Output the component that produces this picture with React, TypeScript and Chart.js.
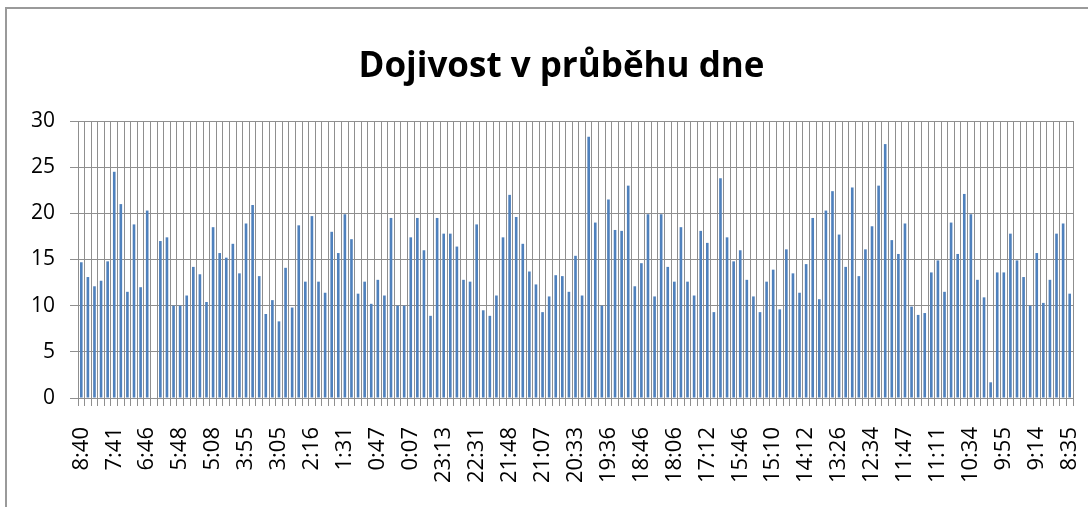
import React, { useEffect, useRef } from "react";
import { Chart, registerables } from "chart.js";

Chart.register(...registerables);

const chartTitle = "Dojivost v průběhu dne";

// Time labels shown on the axis (every 5th category)
const tickLabels = [
  "8:40", "7:41", "6:46", "5:48", "5:08", "3:55", "3:05", "2:16", "1:31", "0:47",
  "0:07", "23:13", "22:31", "21:48", "21:07", "20:33", "19:36", "18:46", "18:06", "17:12",
  "15:46", "15:10", "14:12", "13:26", "12:34", "11:47", "11:11", "10:34", "9:55", "9:14",
  "8:35",
];

const labelEvery = 5;

// Milk yield per milking (151 milkings)
const yieldValues: (number | null)[] = [
  14.7, 13.1, 12.1, 12.7, 14.8, 24.5, 21.0, 11.5, 18.8, 12.0,
  20.3, null, 17.0, 17.4, 10.0, 10.0, 11.1, 14.2, 13.4, 10.4,
  18.5, 15.7, 15.2, 16.7, 13.5, 18.9, 20.9, 13.2, 9.1, 10.6,
  8.3, 14.1, 9.8, 18.7, 12.6, 19.7, 12.6, 11.4, 18.0, 15.7,
  19.9, 17.2, 11.3, 12.6, 10.2, 12.8, 11.1, 19.5, 10.0, 10.0,
  17.4, 19.5, 16.0, 8.9, 19.5, 17.8, 17.8, 16.4, 12.8, 12.6,
  18.8, 9.5, 8.9, 11.1, 17.4, 22.0, 19.6, 16.7, 13.7, 12.3,
  9.3, 11.0, 13.3, 13.2, 11.5, 15.4, 11.1, 28.3, 19.0, 10.0,
  21.5, 18.2, 18.1, 23.0, 12.1, 14.6, 19.9, 11.0, 19.9, 14.2,
  12.6, 18.5, 12.6, 11.1, 18.1, 16.8, 9.3, 23.8, 17.4, 14.8,
  16.0, 12.8, 11.0, 9.3, 12.6, 13.9, 9.6, 16.1, 13.5, 11.4,
  14.5, 19.5, 10.7, 20.3, 22.4, 17.7, 14.2, 22.8, 13.2, 16.1,
  18.6, 23.0, 27.5, 17.1, 15.6, 18.9, 9.9, 9.0, 9.2, 13.6,
  14.9, 11.5, 19.0, 15.6, 22.1, 19.9, 12.8, 10.9, 1.7, 13.6,
  13.6, 17.8, 14.9, 13.1, 10.0, 15.7, 10.3, 12.8, 17.8, 18.9,
  11.3,
];

const yTicks = { min: 0, max: 30, step: 5 };

const categories = yieldValues.map((_, i) =>
  i % labelEvery === 0 ? tickLabels[i / labelEvery] ?? "" : ""
);

const gridColor = "#8f8f8f";
const barColor = "#4F81BD";
const fontFamily = '"Open Sans", "Liberation Sans", sans-serif';

export default function App() {
  const canvasRef = useRef<HTMLCanvasElement | null>(null);

  useEffect(() => {
    document.body.style.margin = "0";
    const canvas = canvasRef.current;
    if (!canvas) return;

    const decorPlugin = {
      id: "decor",
      afterDraw(chart: any) {
        const ctx = chart.ctx as CanvasRenderingContext2D;
        ctx.save();
        // chart frame
        ctx.strokeStyle = "#9a9a9a";
        ctx.lineWidth = 2;
        ctx.beginPath();
        ctx.moveTo(6, 507);
        ctx.lineTo(6, 8);
        ctx.lineTo(1088, 8);
        ctx.stroke();
        // title
        ctx.fillStyle = "#000";
        ctx.font = `bold 35px ${fontFamily}`;
        ctx.textAlign = "center";
        ctx.textBaseline = "alphabetic";
        ctx.fillText(chartTitle, 561.5, 77);
        ctx.restore();
      },
    };

    const chart = new Chart(canvas, {
      type: "bar",
      data: {
        labels: categories,
        datasets: [
          {
            data: yieldValues,
            backgroundColor: barColor,
            borderWidth: 0,
            categoryPercentage: 1,
            barPercentage: 0.4,
          },
        ],
      },
      options: {
        responsive: false,
        animation: false,
        layout: { padding: { top: 121, right: 15, left: 0, bottom: 0 } },
        plugins: {
          legend: { display: false },
          title: { display: false },
          tooltip: { enabled: false },
        },
        scales: {
          x: {
            type: "category",
            offset: true,
            grid: {
              offset: true,
              color: gridColor,
              lineWidth: 1,
              tickLength: 8,
              drawTicks: true,
            },
            border: { color: gridColor, width: 1 },
            ticks: {
              autoSkip: false,
              minRotation: 90,
              maxRotation: 90,
              padding: 21,
              color: "#000",
              font: { family: fontFamily, size: 22 },
              callback: (_v: any, i: number) => categories[i],
            },
            afterFit: (s: any) => {
              s.height = 109;
              s.paddingLeft = 0;
              s.paddingRight = 0;
            },
          },
          y: {
            min: yTicks.min,
            max: yTicks.max,
            grid: { color: gridColor, lineWidth: 1, tickLength: 8 },
            border: { color: gridColor, width: 1 },
            ticks: {
              stepSize: yTicks.step,
              padding: 15,
              color: "#000",
              font: { family: fontFamily, size: 21 },
            },
            afterFit: (s: any) => {
              s.width = 78;
            },
          },
        },
      },
      plugins: [decorPlugin],
    });

    return () => chart.destroy();
  }, []);

  return (
    <div style={{ width: 1088, height: 507 }}>
      <canvas ref={canvasRef} width={1088} height={507} />
    </div>
  );
}
